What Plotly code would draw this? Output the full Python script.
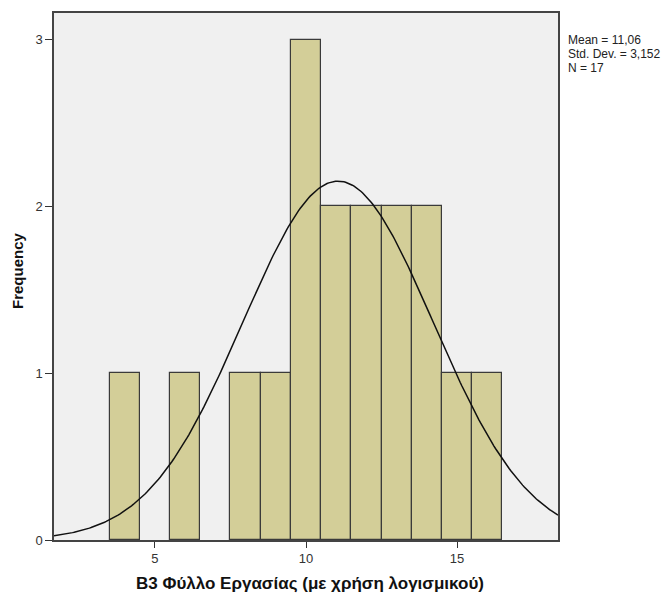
import numpy as np
import plotly.graph_objects as go

# Data
bin_centers = [4, 6, 8, 9, 10, 11, 12, 13, 14, 15, 16]
frequencies = [1, 1, 1, 1, 3, 2, 2, 2, 2, 1, 1]
mean_val = 11.06
std_val = 3.152
n_val = 17
bin_width = 1.0
x_tick_vals = [5, 10, 15]
y_tick_vals = [0, 1, 2, 3]
x_title = "B3 Φύλλο Εργασίας (με χρήση λογισμικού)"
y_title = "Frequency"
stats_lines = ["Mean = 11,06", "Std. Dev. = 3,152", "N = 17"]

x_range = [1.66, 18.34]
y_range = [0, 3.16]

# Normal curve from displayed mean / sd, scaled to counts
xc = np.linspace(x_range[0], x_range[1], 300)
yc = n_val * bin_width * np.exp(-0.5 * ((xc - mean_val) / std_val) ** 2) / (std_val * np.sqrt(2 * np.pi))

fig = go.Figure()
fig.add_trace(go.Bar(
    x=bin_centers, y=frequencies, width=bin_width,
    marker=dict(color="#D3CE98", line=dict(color="#3A3A3A", width=1.2)),
    hoverinfo="x+y", showlegend=False,
))
fig.add_trace(go.Scatter(
    x=xc, y=yc, mode="lines", line=dict(color="#111111", width=1.5),
    showlegend=False, hoverinfo="skip",
))

W, H = 669, 597
ml, mr, mt, mb = 54, 111, 13, 57
pw = W - ml - mr
ph = H - mt - mb

def px_x(p):
    return (p - ml) / pw

def px_y(p):
    return (H - mb - p) / ph

annotations = []
for i, line in enumerate(stats_lines):
    annotations.append(dict(
        text=line, xref="paper", yref="paper",
        x=px_x(566), y=px_y(40 + 14 * i), xanchor="left", yanchor="middle",
        showarrow=False, font=dict(family="Arial, Liberation Sans", size=12, color="#222222"),
    ))
annotations.append(dict(
    text="<b>" + y_title + "</b>", xref="paper", yref="paper",
    x=px_x(17), y=px_y(271), xanchor="center", yanchor="middle", textangle=-90,
    showarrow=False, font=dict(family="Arial, Liberation Sans", size=15, color="#111111"),
))
annotations.append(dict(
    text="<b>" + x_title + "</b>", xref="paper", yref="paper",
    x=px_x(310), y=px_y(583), xanchor="center", yanchor="middle",
    showarrow=False, font=dict(family="Arial, Liberation Sans", size=17, color="#111111"),
))

fig.update_layout(
    width=W, height=H,
    margin=dict(l=ml, r=mr, t=mt, b=mb, autoexpand=False),
    paper_bgcolor="white", plot_bgcolor="#F0F0F0",
    bargap=0,
    font=dict(family="Arial, Liberation Sans", size=11, color="#333333"),
    annotations=annotations,
    xaxis=dict(
        range=x_range, tickvals=x_tick_vals, ticks="outside", ticklen=6,
        tickcolor="#333333", showline=True, linecolor="#444444", linewidth=1.5,
        mirror=True, showgrid=False, zeroline=False,
        tickfont=dict(size=13, color="#333333"),
    ),
    yaxis=dict(
        range=y_range, tickvals=y_tick_vals, ticks="outside", ticklen=7,
        tickcolor="#333333", showline=True, linecolor="#444444", linewidth=1.5,
        mirror=True, showgrid=False, zeroline=False,
        tickfont=dict(size=13, color="#333333"),
    ),
)

fig.write_html("out.html")
